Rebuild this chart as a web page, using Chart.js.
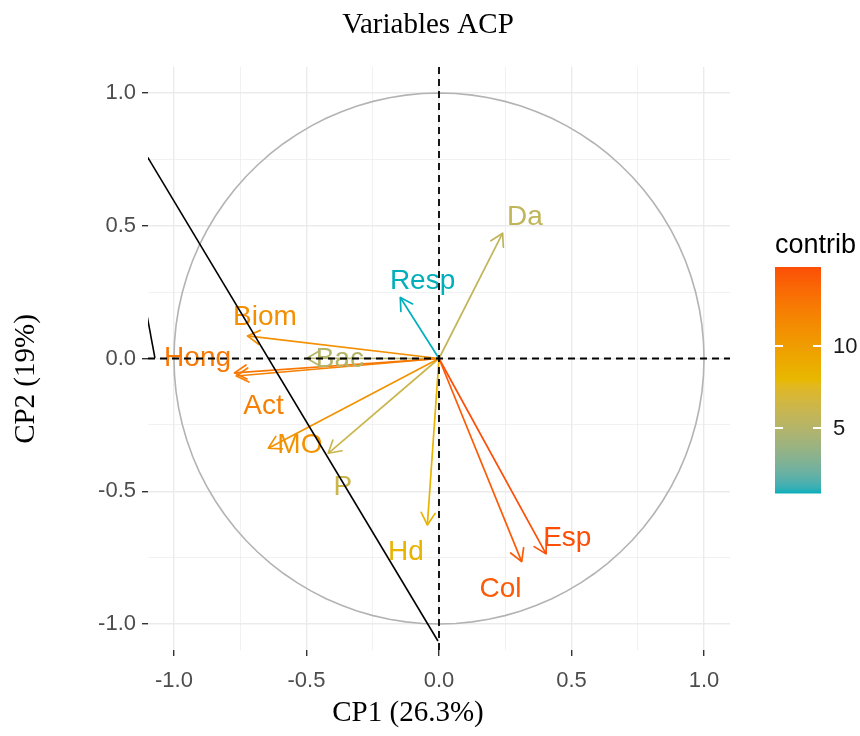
<!DOCTYPE html>
<html><head><meta charset="utf-8">
<script src="https://cdn.jsdelivr.net/npm/chart.js@4.4.1/dist/chart.umd.min.js"></script>
<style>html,body{margin:0;padding:0;background:#fff;}#wrap{width:860px;height:736px;position:relative;}</style>
</head><body><div id="wrap"><canvas id="c" width="860" height="736"></canvas></div>
<script>
// ---- data ----
const variables = ['Da','Resp','Biom','Hong','Bac','Act','MO','P','Hd','Col','Esp'];
const cp1 = [0.240,-0.146,-0.723,-0.772,-0.499,-0.765,-0.644,-0.418,-0.044,0.312,0.404];
const cp2 = [0.472,0.230,0.085,-0.054,0.001,-0.066,-0.338,-0.357,-0.627,-0.765,-0.736];
const contrib = [5.7,1.05,10.9,12.6,5.1,12.0,10.8,6.2,8.2,14.2,14.8];
const labelX = [0.324,-0.062,-0.657,-0.911,-0.374,-0.662,-0.525,-0.363,-0.125,0.232,0.484];
const labelY = [0.540,0.301,0.164,0.011,0.004,-0.173,-0.319,-0.476,-0.723,-0.861,-0.670];
const axisTicks = [-1,-0.75,-0.5,-0.25,0,0.25,0.5,0.75,1];
const legendTicks = [5,10];
const lineAx = [-1.102,-0.004], lineAy = [0.763,-1.064];
const lineBx = [-1.102,-1.072], lineBy = [0.164,0.002];
const titleText = 'Variables ACP', xTitle = 'CP1 (26.3%)', yTitle = 'CP2 (19%)', legendTitle = 'contrib';

// ---- colour gradient (Lab interpolation like ggplot) ----
const stops = ['#00AFBB','#E7B800','#FC4E07'];
function hex2rgb(h){return [parseInt(h.slice(1,3),16),parseInt(h.slice(3,5),16),parseInt(h.slice(5,7),16)];}
function s2l(c){c/=255;return c<=0.04045?c/12.92:Math.pow((c+0.055)/1.055,2.4);}
function l2s(c){const v=c<=0.0031308?12.92*c:1.055*Math.pow(Math.max(c,0),1/2.4)-0.055;return Math.round(Math.max(0,Math.min(1,v))*255);}
function rgb2lab(rgb){const r=s2l(rgb[0]),g=s2l(rgb[1]),b=s2l(rgb[2]);
 const X=(0.4124*r+0.3576*g+0.1805*b)/0.95047,Y=0.2126*r+0.7152*g+0.0722*b,Z=(0.0193*r+0.1192*g+0.9505*b)/1.08883;
 const f=t=>t>0.008856?Math.cbrt(t):7.787*t+16/116;
 return [116*f(Y)-16,500*(f(X)-f(Y)),200*(f(Y)-f(Z))];}
function lab2rgb(lab){const fy=(lab[0]+16)/116,fx=fy+lab[1]/500,fz=fy-lab[2]/200;
 const fi=t=>t*t*t>0.008856?t*t*t:(t-16/116)/7.787;
 const X=0.95047*fi(fx),Y=fi(fy),Z=1.08883*fi(fz);
 return [l2s(3.2406*X-1.5372*Y-0.4986*Z),l2s(-0.9689*X+1.8758*Y+0.0415*Z),l2s(0.0557*X-0.2040*Y+1.0570*Z)];}
const labStops = stops.map(s=>rgb2lab(hex2rgb(s)));
const cMin = Math.min(...contrib), cMax = Math.max(...contrib);
function colorFor(v){let t=(v-cMin)/(cMax-cMin);t=Math.max(0,Math.min(1,t));
 const seg=t<0.5?0:1;const u=seg===0?t/0.5:(t-0.5)/0.5;
 const a=labStops[seg],b=labStops[seg+1];
 const c=lab2rgb([a[0]+(b[0]-a[0])*u,a[1]+(b[1]-a[1])*u,a[2]+(b[2]-a[2])*u]);
 return 'rgb('+c[0]+','+c[1]+','+c[2]+')';}
const colors = contrib.map(colorFor);

// ---- datasets ----
const datasets = [];
datasets.push({isRef:true,order:-1,data:lineAx.map((x,i)=>({x:x,y:lineAy[i]})),showLine:true,borderColor:'#000',borderWidth:1.6,pointRadius:0});
datasets.push({isRef:true,order:-1,data:lineBx.map((x,i)=>({x:x,y:lineBy[i]})),showLine:true,borderColor:'#000',borderWidth:1.6,pointRadius:0});
variables.forEach((v,i)=>{
 datasets.push({isArrow:true,vi:i,label:v,order:0,data:[{x:0,y:0},{x:cp1[i],y:cp2[i]}],showLine:true,borderColor:colors[i],borderWidth:1.7,pointRadius:0});
});

const SANS='"Liberation Sans", Arial, sans-serif', SERIF='"Liberation Serif", "Times New Roman", serif';
let overlayDone=false;
function drawOverlay(chart){
 const ctx=chart.ctx,xs=chart.scales.x,ys=chart.scales.y,ca=chart.chartArea;
 ctx.save();
 ctx.beginPath();ctx.rect(ca.left,ca.top,ca.right-ca.left,ca.bottom-ca.top);ctx.clip();
 // labels
 ctx.font='28px '+SANS;ctx.textAlign='center';ctx.textBaseline='alphabetic';
 variables.forEach((v,i)=>{ctx.fillStyle=colors[i];
  ctx.fillText(v,xs.getPixelForValue(labelX[i]),ys.getPixelForValue(labelY[i])+0.716*28/2);});
 // dashed zero lines
 ctx.strokeStyle='#000';ctx.lineWidth=1.8;ctx.setLineDash([7,5]);
 const x0=xs.getPixelForValue(0),y0=ys.getPixelForValue(0);
 ctx.beginPath();ctx.moveTo(ca.left,y0);ctx.lineTo(ca.right,y0);ctx.stroke();
 ctx.beginPath();ctx.moveTo(x0,ca.top);ctx.lineTo(x0,ca.bottom);ctx.stroke();
 ctx.restore();
}
const plugin={id:'pca',
 beforeDatasetsDraw(chart){
  overlayDone=false;
  const ctx=chart.ctx,xs=chart.scales.x,ys=chart.scales.y;
  // correlation circle
  ctx.save();ctx.strokeStyle='#B3B3B3';ctx.lineWidth=1.6;ctx.beginPath();
  for(let k=0;k<=100;k++){const th=2*Math.PI*k/100;const px=xs.getPixelForValue(Math.cos(th)),py=ys.getPixelForValue(Math.sin(th));
   if(k===0)ctx.moveTo(px,py);else ctx.lineTo(px,py);}
  ctx.stroke();ctx.restore();
 },
 afterDatasetDraw(chart,args){
  const ds=chart.data.datasets[args.index];
  if(!ds.isArrow)return;
  const ctx=chart.ctx,xs=chart.scales.x,ys=chart.scales.y;
  const i=ds.vi;
  const px0=xs.getPixelForValue(0),py0=ys.getPixelForValue(0);
  const px=xs.getPixelForValue(cp1[i]),py=ys.getPixelForValue(cp2[i]);
  const ang=Math.atan2(py-py0,px-px0),L=14,a=Math.PI/6;
  ctx.save();ctx.strokeStyle=colors[i];ctx.lineWidth=1.7;ctx.lineCap='round';ctx.lineJoin='round';
  ctx.beginPath();
  ctx.moveTo(px-L*Math.cos(ang-a),py-L*Math.sin(ang-a));ctx.lineTo(px,py);
  ctx.lineTo(px-L*Math.cos(ang+a),py-L*Math.sin(ang+a));ctx.stroke();ctx.restore();
 },
 beforeDatasetDraw(chart,args){
  const ds=chart.data.datasets[args.index];
  if(ds.isRef&&!overlayDone){overlayDone=true;drawOverlay(chart);}
 },
 afterDraw(chart){
  const ctx=chart.ctx,ca=chart.chartArea;
  ctx.save();
  // title and axis titles
  ctx.fillStyle='#000';ctx.font='29px '+SERIF;ctx.textAlign='center';ctx.textBaseline='alphabetic';
  ctx.fillText(titleText,428,33);
  ctx.fillText(xTitle,408,721);
  ctx.save();ctx.translate(34,379);ctx.rotate(-Math.PI/2);ctx.fillText(yTitle,0,0);ctx.restore();
  // colour bar legend
  const bx=775,bw=46,bt=267,bb=493;
  for(let py=bt;py<bb;py++){const v=cMax-(py+0.5-bt)/(bb-bt)*(cMax-cMin);ctx.fillStyle=colorFor(v);ctx.fillRect(bx,py,bw,1.5);}
  ctx.strokeStyle='#fff';ctx.lineWidth=2;
  ctx.font='22px '+SANS;ctx.textAlign='left';ctx.textBaseline='middle';
  legendTicks.forEach(t=>{const py=bb-(t-cMin)/(cMax-cMin)*(bb-bt);
   ctx.beginPath();ctx.moveTo(bx,py);ctx.lineTo(bx+8,py);ctx.moveTo(bx+bw-8,py);ctx.lineTo(bx+bw,py);ctx.stroke();
   ctx.fillStyle='#1a1a1a';ctx.fillText(String(t),833,py+1);});
  ctx.fillStyle='#000';ctx.font='27px '+SANS;ctx.textAlign='left';ctx.textBaseline='alphabetic';
  ctx.fillText(legendTitle,775,253);
  ctx.restore();
 }
};

const isMajor=v=>Math.abs(v*2-Math.round(v*2))<1e-6;
function axisCfg(pos){
 return {type:'linear',position:pos,min:-1.098,max:1.098,
  afterBuildTicks:s=>{s.ticks=axisTicks.map(v=>({value:v}));},
  afterFit:s=>{if(pos==='left')s.width=148;else s.height=86;},
  border:{display:false},
  grid:{color:'#EBEBEB',lineWidth:c=>isMajor(c.tick?c.tick.value:0)?1.4:0.7,
   tickColor:c=>isMajor(c.tick?c.tick.value:0)?'#333333':'rgba(0,0,0,0)',tickLength:6,tickWidth:1.4,drawTicks:true},
  ticks:{color:'#4D4D4D',font:{family:SANS,size:22},padding:pos==='left'?6:12,maxRotation:0,autoSkip:false,
   callback:v=>isMajor(v)?v.toFixed(1):''}
 };
}
new Chart(document.getElementById('c'),{
 type:'scatter',
 data:{datasets:datasets},
 options:{responsive:false,animation:false,devicePixelRatio:1,
  layout:{padding:{left:0,top:67,right:130,bottom:0}},
  plugins:{legend:{display:false},tooltip:{enabled:false},title:{display:false}},
  scales:{x:axisCfg('bottom'),y:axisCfg('left')}
 },
 plugins:[plugin]
});
</script></body></html>
